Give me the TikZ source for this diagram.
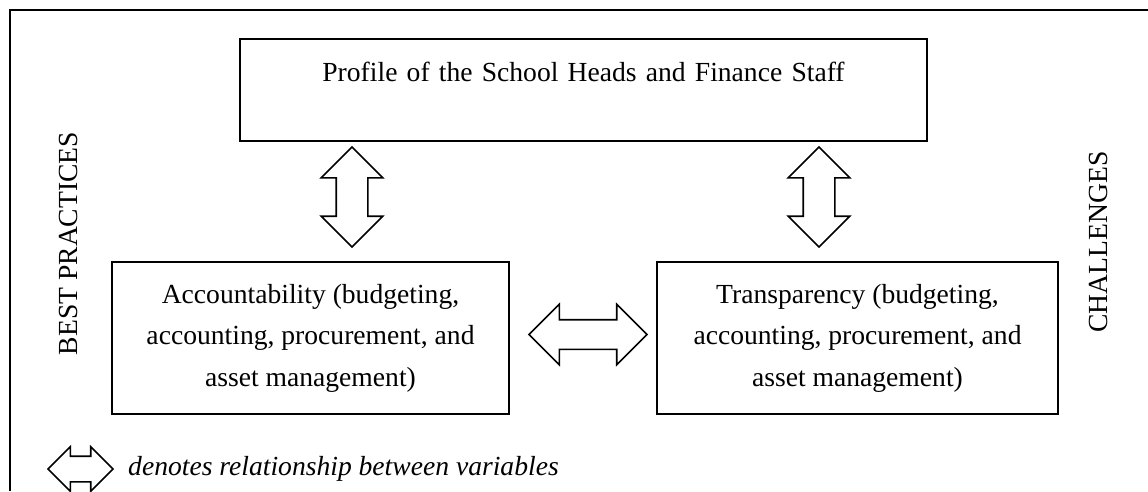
\documentclass[tikz,border=0pt]{standalone}
\usepackage{fontspec}
\setmainfont{Liberation Serif}
\usetikzlibrary{shapes.arrows}

\begin{document}
\begin{tikzpicture}[x=1pt, y=-1pt,
            font=\fontsize{27.6}{41.5}\selectfont,
            frame/.style={line width=1.5pt},
            box/.style={draw, line width=2.2pt, inner sep=0pt, align=center},
            rel/.style={double arrow, draw, fill=white, line width=1.6pt,
                    inner xsep=0pt, inner ysep=15pt,
                    double arrow head extend=15pt, double arrow head indent=0pt}
        ]
        \useasboundingbox (0,0) rectangle (1148,491);

        % open frame round the whole figure
        \draw[frame] (1148,10) -- (10,10) -- (10,491);

        % the three variables
        \node[box, text width=687pt, text height=42pt, text depth=60pt] (profile) at (583.5,90)
            {Profile of the School Heads and Finance Staff};
        \node[box, minimum width=397pt, minimum height=152pt] (acc) at (310.5,338)
            {Accountability (budgeting,\\accounting, procurement, and\\asset management)};
        \node[box, minimum width=401pt, minimum height=152pt] (trans) at (857.5,338)
            {Transparency (budgeting,\\accounting, procurement, and\\asset management)};

        % side headings
        \node[rotate=90] (best) at (68,243.5) {BEST PRACTICES};
        \node[rotate=90] (chall) at (1098,242) {CHALLENGES};

        % relationships between the variables
        \foreach \x [count=\n from 1] in {352, 819} {
                \node[rel, rotate=90, minimum height=100pt] (v\n) at (\x,197) {};
            }
        \node[rel, minimum height=118pt, inner ysep=14pt,
            double arrow head extend=15.5pt] (h) at (588,334.5) {};

        % legend
        \node[rel, minimum height=65pt, inner ysep=12pt,
            double arrow head extend=9.5pt] (key) at (80.5,469) {};
        \node[anchor=base west, inner sep=0pt] (keytext) at (128,475)
            {\itshape denotes relationship between variables};
    \end{tikzpicture}
\end{document}
